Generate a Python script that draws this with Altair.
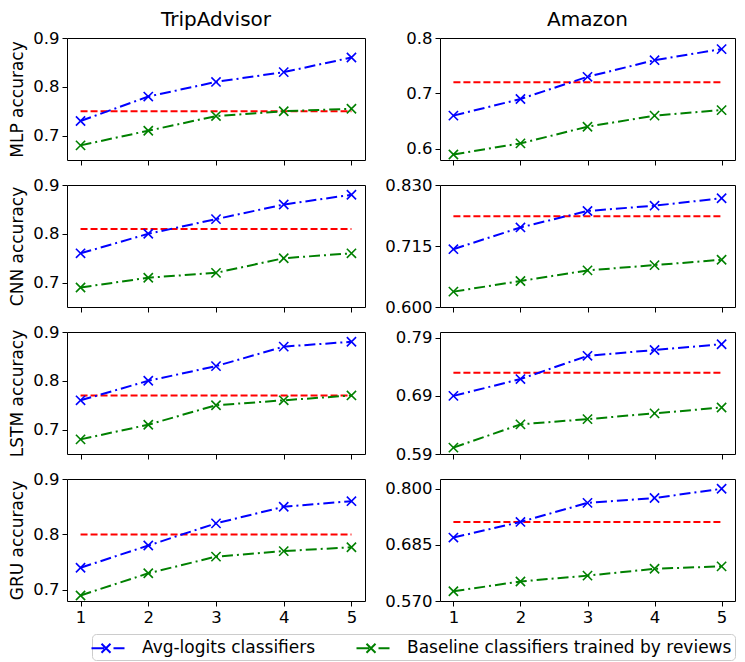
import altair as alt
import pandas as pd

x_vals = [1, 2, 3, 4, 5]
series_names = ["Avg-logits classifiers", "Baseline classifiers trained by reviews"]

# TripAdvisor
ta_mlp_avg = [0.73, 0.78, 0.81, 0.83, 0.86]
ta_mlp_base = [0.68, 0.71, 0.74, 0.75, 0.755]
ta_mlp_ref = 0.75
ta_cnn_avg = [0.76, 0.80, 0.83, 0.86, 0.88]
ta_cnn_base = [0.69, 0.71, 0.72, 0.75, 0.76]
ta_cnn_ref = 0.81
ta_lstm_avg = [0.76, 0.80, 0.83, 0.87, 0.88]
ta_lstm_base = [0.68, 0.71, 0.75, 0.76, 0.77]
ta_lstm_ref = 0.77
ta_gru_avg = [0.74, 0.78, 0.82, 0.85, 0.86]
ta_gru_base = [0.69, 0.73, 0.76, 0.77, 0.777]
ta_gru_ref = 0.80

# Amazon
am_mlp_avg = [0.66, 0.69, 0.73, 0.76, 0.78]
am_mlp_base = [0.59, 0.61, 0.64, 0.66, 0.67]
am_mlp_ref = 0.72
am_cnn_avg = [0.709, 0.750, 0.781, 0.791, 0.805]
am_cnn_base = [0.629, 0.649, 0.669, 0.679, 0.689]
am_cnn_ref = 0.771
am_lstm_avg = [0.69, 0.719, 0.759, 0.769, 0.779]
am_lstm_base = [0.601, 0.641, 0.65, 0.66, 0.67]
am_lstm_ref = 0.73
am_gru_avg = [0.70, 0.732, 0.771, 0.781, 0.80]
am_gru_base = [0.59, 0.61, 0.622, 0.636, 0.641]
am_gru_ref = 0.732

# axis settings
ta_domains = [[0.65, 0.9], [0.65, 0.9], [0.65, 0.9], [0.68, 0.9]]
ta_ticks = [[0.7, 0.8, 0.9]] * 4
am_domains = [[0.58, 0.8], [0.6, 0.83], [0.59, 0.8], [0.57, 0.82]]
am_ticks = [[0.6, 0.7, 0.8], [0.6, 0.715, 0.83], [0.59, 0.69, 0.79], [0.57, 0.685, 0.8]]
am_formats = [".1f", ".3f", ".2f", ".3f"]
row_titles = ["MLP accuracy", "CNN accuracy", "LSTM accuracy", "GRU accuracy"]

XPATH = "M-1,-1L1,1M-1,1L1,-1"
LEG_PATH = ("M-1.45,0L-0.2,0M-0.45,-0.45L0.45,0.45M-0.45,0.45L0.45,-0.45"
            "M0.75,0L1.85,0")
FONT = "DejaVu Sans"

color_scale = alt.Scale(domain=series_names, range=["#0000ff", "#008000"])

legend = alt.Legend(
    title=None, orient="none", legendX=25, legendY=596, direction="horizontal",
    symbolType=LEG_PATH, symbolSize=400, symbolStrokeWidth=2,
    labelFont=FONT, labelFontSize=17, labelColor="black", labelLimit=500,
    labelOffset=25, columnPadding=36, padding=3, offset=0,
    strokeColor="#cccccc", fillColor="white", cornerRadius=4,
)

W_LEFT = 298
W_RIGHT = 295
H = 122


def panel(avg, base, ref, domain, ticks, fmt, ytitle, title, show_x, width):
    df = pd.DataFrame({
        "x": x_vals + x_vals,
        "y": avg + base,
        "s": [series_names[0]] * 5 + [series_names[1]] * 5,
    })
    xaxis = alt.Axis(values=x_vals, format="d", labels=show_x, title=None)
    xscale = alt.Scale(domain=[0.8, 5.2], nice=False, zero=False)
    yscale = alt.Scale(domain=domain, nice=False, zero=False)
    yaxis = alt.Axis(values=ticks, format=fmt, title=ytitle)
    xenc = alt.X("x:Q", scale=xscale, axis=xaxis)
    yenc = alt.Y("y:Q", scale=yscale, axis=yaxis)
    cenc = alt.Color("s:N", scale=color_scale, legend=legend)
    refdf = pd.DataFrame({"x0": [1], "x1": [5], "y": [ref]})
    rule = alt.Chart(refdf).mark_rule(color="#ff0000", strokeDash=[7, 3], strokeWidth=2).encode(
        x=alt.X("x0:Q", scale=xscale, axis=xaxis), x2="x1:Q", y=yenc)
    lines = alt.Chart(df).mark_line(strokeDash=[11, 4, 2, 4], strokeWidth=2).encode(
        x=xenc, y=yenc, color=cenc, detail="s:N")
    pts = alt.Chart(df).mark_point(shape=XPATH, filled=False, size=85, strokeWidth=1.6, opacity=1).encode(
        x=xenc, y=yenc, color=cenc)
    ch = alt.layer(rule, lines, pts).properties(width=width, height=H)
    if title:
        ch = ch.properties(title=alt.TitleParams(title, font=FONT, fontSize=20, fontWeight="normal",
                                                 color="black", offset=0, frame="group", anchor="middle"))
    return ch


ta = [(ta_mlp_avg, ta_mlp_base, ta_mlp_ref), (ta_cnn_avg, ta_cnn_base, ta_cnn_ref),
      (ta_lstm_avg, ta_lstm_base, ta_lstm_ref), (ta_gru_avg, ta_gru_base, ta_gru_ref)]
am = [(am_mlp_avg, am_mlp_base, am_mlp_ref), (am_cnn_avg, am_cnn_base, am_cnn_ref),
      (am_lstm_avg, am_lstm_base, am_lstm_ref), (am_gru_avg, am_gru_base, am_gru_ref)]

charts = []
for i in range(4):
    charts.append(panel(*ta[i], ta_domains[i], ta_ticks[i], ".1f", row_titles[i],
                        "TripAdvisor" if i == 0 else None, i == 3, W_LEFT))
    charts.append(panel(*am[i], am_domains[i], am_ticks[i], am_formats[i], None,
                        "Amazon" if i == 0 else None, i == 3, W_RIGHT))

chart = alt.concat(
    *charts, columns=2, bounds="flush", spacing={"row": 25, "column": 75}
).configure_axis(
    grid=False, domain=False, tickColor="black", tickSize=5, tickWidth=1,
    labelFont=FONT, labelFontSize=16.5, labelColor="black", labelPadding=3,
    titleFont=FONT, titleFontSize=17, titleFontWeight="normal", titleColor="black", titlePadding=6,
).configure_view(stroke="black", strokeWidth=1).properties(
    background="white",
    padding={"left": 0, "top": 1, "right": 0, "bottom": 0},
)

chart.save("out.html", embed_options={"renderer": "svg", "actions": False})
